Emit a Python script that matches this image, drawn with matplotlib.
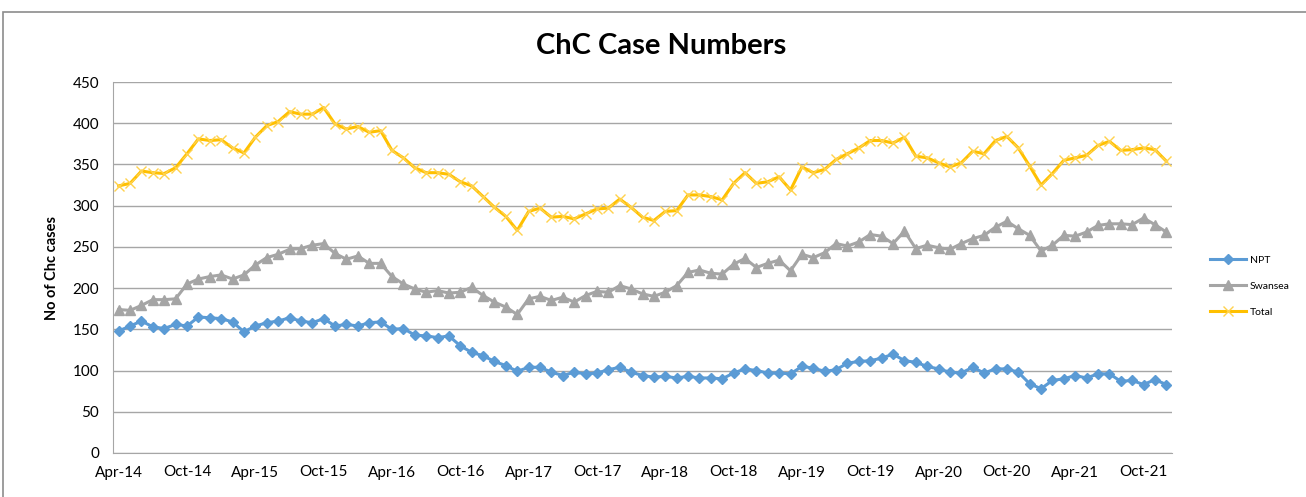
import matplotlib.pyplot as plt
import matplotlib.patches as mpatches

# monthly values, Apr-14 .. Dec-21
npt = [148, 154, 160, 153, 151, 156, 154, 165, 164, 163, 159, 147,
       154, 158, 160, 164, 160, 158, 163, 154, 156, 154, 158, 159,
       150, 151, 143, 142, 140, 142, 130, 122, 118, 111, 106, 99,
       104, 104, 98, 94, 98, 96, 97, 101, 104, 98, 94, 92,
       93, 91, 93, 91, 91, 90, 97, 102, 100, 97, 97, 96,
       105, 103, 99, 101, 109, 111, 112, 115, 120, 112, 110, 105,
       102, 98, 97, 104, 97, 102, 102, 98, 84, 78, 88, 90,
       94, 91, 96, 96, 87, 88, 83, 89, 83]
swansea = [174, 173, 179, 186, 186, 187, 205, 211, 214, 216, 211, 216,
           228, 237, 241, 247, 248, 252, 254, 242, 235, 239, 230, 230,
           214, 205, 199, 195, 197, 194, 195, 201, 191, 183, 177, 168,
           187, 190, 185, 189, 183, 191, 196, 195, 203, 199, 193, 190,
           195, 203, 219, 222, 218, 217, 229, 236, 225, 230, 234, 221,
           241, 237, 243, 254, 251, 256, 265, 263, 254, 269, 248, 252,
           249, 247, 254, 260, 264, 274, 281, 272, 264, 245, 252, 264,
           263, 268, 276, 278, 278, 277, 285, 277, 268]
total = [324, 327, 342, 340, 339, 346, 363, 381, 379, 380, 370, 364,
         383, 397, 402, 414, 411, 411, 419, 399, 393, 396, 389, 391,
         367, 358, 346, 340, 340, 338, 329, 324, 311, 298, 287, 270,
         293, 297, 286, 287, 284, 290, 296, 297, 308, 298, 286, 282,
         293, 294, 313, 313, 311, 307, 327, 340, 327, 329, 335, 319,
         347, 340, 344, 356, 363, 370, 379, 379, 376, 383, 360, 358,
         352, 347, 352, 366, 363, 379, 384, 370, 348, 325, 339, 355,
         358, 361, 373, 378, 367, 368, 370, 368, 354]

tick_labels = ['Apr-14', 'Oct-14', 'Apr-15', 'Oct-15', 'Apr-16', 'Oct-16',
               'Apr-17', 'Oct-17', 'Apr-18', 'Oct-18', 'Apr-19', 'Oct-19',
               'Apr-20', 'Oct-20', 'Apr-21', 'Oct-21']

plt.rcParams['font.family'] = ['Lato', 'DejaVu Sans']

fig = plt.figure(figsize=(13.06, 4.97), dpi=100)
ax = fig.add_axes([113 / 1306, 44 / 497, 1059 / 1306, 371 / 497])

# outer chart border (cropped on right and bottom)
fig.patches.append(mpatches.Rectangle((3 / 1306, -0.1), 1.2, 1.1 - 12 / 497,
                                      transform=fig.transFigure, fill=False,
                                      edgecolor='#8c8c8c', linewidth=1.2))

x = list(range(len(npt)))
ax.plot(x, npt, color='#5B9BD5', lw=2.2, marker='D', ms=5, label='NPT')
ax.plot(x, swansea, color='#A5A5A5', lw=2.2, marker='^', ms=6.5, label='Swansea')
ax.plot(x, total, color='#FFC000', lw=2.2, marker='x', ms=7, mew=1,
        mec='#FFD24D', label='Total')

ax.set_xlim(-0.5, len(npt) - 0.5)
ax.set_ylim(0, 450)
ax.set_yticks(range(0, 451, 50))
ax.set_xticks(range(0, len(npt), 6))
ax.set_xticklabels(tick_labels)
ax.tick_params(axis='both', length=0, labelsize=11, colors='black')
ax.tick_params(axis='x', pad=9)
ax.tick_params(axis='y', pad=10)
ax.grid(axis='y', color='#a6a6a6', lw=1)
ax.set_axisbelow(True)
for s in ['top', 'right']:
    ax.spines[s].set_visible(False)
ax.spines['left'].set_color('#a6a6a6')
ax.spines['bottom'].set_color('#a6a6a6')

ax.set_ylabel('No of Chc cases', fontsize=10.5, fontweight='bold', labelpad=10)
fig.text(661 / 1306, 1 - 46 / 497, 'ChC Case Numbers', ha='center', va='center',
         fontsize=21, fontweight='bold')

ax.legend(loc='center left', bbox_to_anchor=(1.027, 0.45), frameon=False,
          fontsize=7.5, handlelength=3.5, labelspacing=1.6, handletextpad=0.3)

fig.savefig('out.png', dpi=100)
